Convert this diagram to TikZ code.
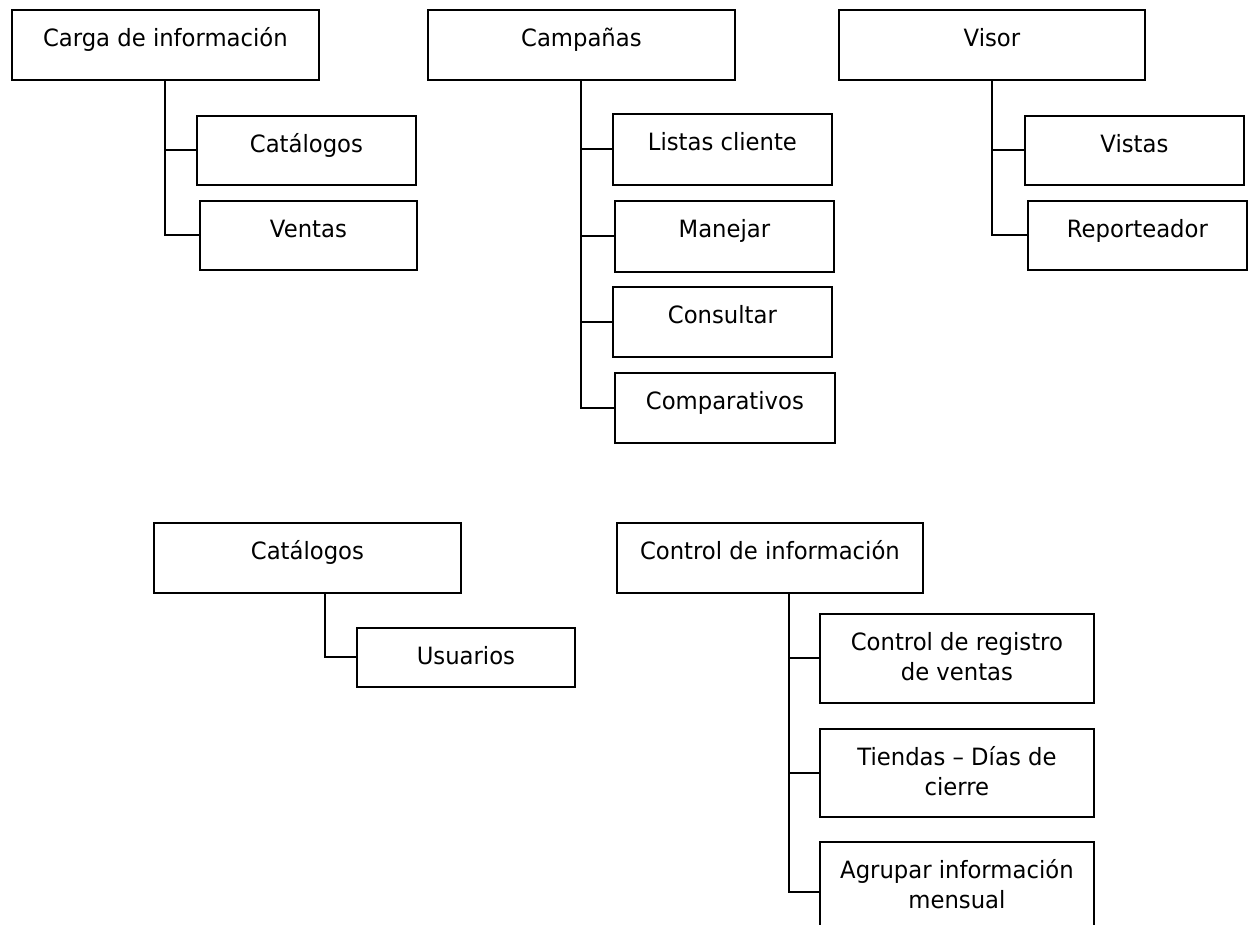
\documentclass[tikz,border=0pt]{standalone}
\usepackage{fontspec}
\setmainfont{DejaVu Sans}[FakeStretch=0.955]
\begin{document}
\begin{tikzpicture}[x=1pt,y=-1pt,
  box/.style={draw=black, line width=1.8pt, rectangle, anchor=north west, inner sep=0pt},
  lbl/.style={anchor=base, yshift=-37.5pt, inner sep=0pt, font=\fontsize{23.8}{30}\selectfont},
  lbltwo/.style={lbl, yshift=-30pt},
  link/.style={draw=black, line width=2pt}]
\clip (0,0) rectangle (1249,925);
\fill[white] (0,0) rectangle (1249,925);

% upper left tree
\node[box, minimum width=307pt, minimum height=70pt, label={[lbl]north:Carga de información}] (carga) at (11,9) {};
\node[box, minimum width=219pt, minimum height=69pt, label={[lbl]north:Catálogos}] (cat) at (196,115) {};
\node[box, minimum width=217pt, minimum height=69pt, label={[lbl]north:Ventas}] (ventas) at (199,200) {};

% upper middle tree
\node[box, minimum width=307pt, minimum height=70pt, label={[lbl]north:Campañas}] (camp) at (427,9) {};
\node[box, minimum width=219pt, minimum height=71pt, label={[lbl]north:Listas cliente}] (listas) at (612,113) {};
\node[box, minimum width=219pt, minimum height=71pt, label={[lbl]north:Manejar}] (manejar) at (614,200) {};
\node[box, minimum width=219pt, minimum height=70pt, label={[lbl]north:Consultar}] (consultar) at (612,286) {};
\node[box, minimum width=220pt, minimum height=70pt, label={[lbl]north:Comparativos}] (compar) at (614,372) {};

% upper right tree
\node[box, minimum width=306pt, minimum height=70pt, label={[lbl]north:Visor}] (visor) at (838,9) {};
\node[box, minimum width=219pt, minimum height=69pt, label={[lbl]north:Vistas}] (vistas) at (1024,115) {};
\node[box, minimum width=219pt, minimum height=69pt, label={[lbl]north:Reporteador}] (report) at (1027,200) {};

% lower left tree
\node[box, minimum width=307pt, minimum height=70pt, label={[lbl]north:Catálogos}] (catb) at (153,522) {};
\node[box, minimum width=218pt, minimum height=59pt, label={[lbl]north:Usuarios}] (usu) at (356,627) {};

% lower right tree
\node[box, minimum width=306pt, minimum height=70pt, label={[lbl]north:Control de información}] (ctrl) at (616,522) {};
\node[box, minimum width=274pt, minimum height=89pt,
  label={[lbl]north:Control de registro}, label={[lbltwo]north:de ventas}] (reg) at (819,613) {};
\node[box, minimum width=274pt, minimum height=88pt,
  label={[lbl]north:Tiendas – Días de}, label={[lbltwo]north:cierre}] (tiend) at (819,728) {};
\node[box, minimum width=274pt, minimum height=100pt,
  label={[lbl]north:Agrupar información}, label={[lbltwo]north:mensual}] (agru) at (819,841) {};

% trunk start points
\coordinate (tcatb) at ([xshift=17.5pt]catb.south);
\coordinate (tctrl) at ([xshift=19pt]ctrl.south);

% connectors
\draw[link] (carga.south) |- (cat.west);
\draw[link] (carga.south) |- (ventas.west);
\draw[link] (camp.south) |- (listas.west);
\draw[link] (camp.south) |- (manejar.west);
\draw[link] (camp.south) |- (consultar.west);
\draw[link] (camp.south) |- (compar.west);
\draw[link] (visor.south) |- (vistas.west);
\draw[link] (visor.south) |- (report.west);
\draw[link] (tcatb) |- (usu.west);
\draw[link] (tctrl) |- (reg.west);
\draw[link] (tctrl) |- (tiend.west);
\draw[link] (tctrl) |- (agru.west);
\end{tikzpicture}
\end{document}
